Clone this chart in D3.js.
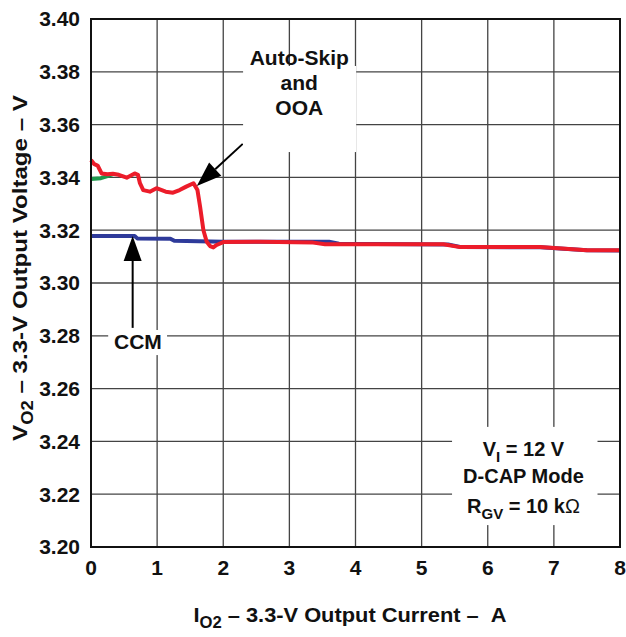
<!DOCTYPE html>
<html>
<head>
<meta charset="utf-8">
<script src="https://cdn.jsdelivr.net/npm/d3@7"></script>
<style>
  body { margin: 0; background: #fff; }
  text { font-family: Arial, "Liberation Sans", sans-serif; font-weight: bold; fill: #111; }
  .grid line { stroke: #444; stroke-width: 1.3; }
</style>
</head>
<body>
<div id="graph"></div>
<script>
const graphWidth = 626;
const graphHeight = 637;

const plotLeft = 91;
const plotRight = 620;
const plotTop = 19;
const plotBottom = 547;

const xTicks = [0, 1, 2, 3, 4, 5, 6, 7, 8];
const yTicks = [3.20, 3.22, 3.24, 3.26, 3.28, 3.30, 3.32, 3.34, 3.36, 3.38, 3.40];

// Auto-Skip and OOA (red)
const skipCurrent = [0, 0.05, 0.1, 0.16, 0.25, 0.33, 0.42, 0.54, 0.66, 0.71, 0.74, 0.79, 0.89, 0.99, 1.13, 1.24, 1.34, 1.44, 1.55, 1.61, 1.65, 1.70, 1.75, 1.80, 1.85, 1.90, 2.0, 2.56, 3.36, 3.54, 5.33, 5.58, 6.79, 7.50, 8.0];
const skipVoltage = [3.3466, 3.3450, 3.3445, 3.3415, 3.3412, 3.3414, 3.3410, 3.3399, 3.3415, 3.3410, 3.3378, 3.3352, 3.3346, 3.3359, 3.3346, 3.3342, 3.3352, 3.3365, 3.3378, 3.3352, 3.3289, 3.3200, 3.3156, 3.3140, 3.3135, 3.3144, 3.3155, 3.3156, 3.3153, 3.3147, 3.3147, 3.3136, 3.3136, 3.3124, 3.3124];

// green trace, visible only at light load
const greenCurrent = [0, 0.15, 0.25, 0.33];
const greenVoltage = [3.3394, 3.3397, 3.3405, 3.3412];

// CCM (blue)
const ccmCurrent = [0, 0.66, 0.70, 1.20, 1.26, 2.0, 3.6, 3.75, 5.4, 5.6, 6.8, 7.5, 8.0];
const ccmVoltage = [3.3178, 3.3178, 3.3169, 3.3168, 3.3160, 3.3156, 3.3156, 3.3149, 3.3146, 3.3136, 3.3135, 3.3124, 3.3123];

const x = d3.scaleLinear().domain([0, 8]).range([plotLeft, plotRight]);
const y = d3.scaleLinear().domain([3.20, 3.40]).range([plotBottom, plotTop]);

const svg = d3.select('#graph').append('svg')
  .attr('width', graphWidth)
  .attr('height', graphHeight);

// grid
const grid = svg.append('g').attr('class', 'grid');
grid.selectAll('.vline').data(xTicks).enter().append('line')
  .attr('x1', d => x(d)).attr('x2', d => x(d))
  .attr('y1', plotTop).attr('y2', plotBottom);
grid.selectAll('.hline').data(yTicks).enter().append('line')
  .attr('x1', plotLeft).attr('x2', plotRight)
  .attr('y1', d => y(d)).attr('y2', d => y(d));

// series
const line = d3.line().x(d => x(d[0])).y(d => y(d[1]));
const zip = (a, b) => a.map((v, i) => [v, b[i]]);

function drawSeries(xs, ys, color) {
  svg.append('path')
    .datum(zip(xs, ys))
    .attr('fill', 'none')
    .attr('stroke', color)
    .attr('stroke-width', 4)
    .attr('stroke-linejoin', 'round')
    .attr('d', line);
}
drawSeries(ccmCurrent, ccmVoltage, '#2e3a9a');
drawSeries(greenCurrent, greenVoltage, '#1e9a4e');
drawSeries(skipCurrent, skipVoltage, '#ec1c2a');

// frame
svg.append('rect')
  .attr('x', plotLeft).attr('y', plotTop)
  .attr('width', plotRight - plotLeft).attr('height', plotBottom - plotTop)
  .attr('fill', 'none').attr('stroke', '#111').attr('stroke-width', 2);

// tick labels
svg.selectAll('.xlab').data(xTicks).enter().append('text')
  .attr('x', d => x(d)).attr('y', 575)
  .attr('text-anchor', 'middle').attr('font-size', 21)
  .text(d => d);
svg.selectAll('.ylab').data(yTicks).enter().append('text')
  .attr('x', 80).attr('y', d => y(d)).attr('dy', '0.35em')
  .attr('text-anchor', 'end').attr('font-size', 21)
  .text(d => d.toFixed(2));

// axis titles
const xt = svg.append('text')
  .attr('transform', translate(350, 622) + ' scale(1.04,1)')
  .attr('text-anchor', 'middle').attr('font-size', 21);
xt.append('tspan').text('I');
xt.append('tspan').attr('font-size', 16).attr('dy', 6).text('O2');
xt.append('tspan').attr('dy', -6).text(' \u2013 3.3-V Output Current \u2013\u00a0\u00a0A');

const yt = svg.append('text')
  .attr('transform', translate(27, 268) + ' rotate(-90) scale(1.15,1)')
  .attr('text-anchor', 'middle').attr('font-size', 21);
yt.append('tspan').text('V');
yt.append('tspan').attr('font-size', 16).attr('dy', 6).text('O2');
yt.append('tspan').attr('dy', -6).text(' \u2013 3.3-V Output Voltage \u2013 V');

// annotations
const arrowTips = [[1.60, 3.3367], [0.63, 3.3178]];
const arrowTails = [[2.295, 3.3527], [0.63, 3.283]];

arrowTips.forEach((tip, i) => drawArrow(arrowTails[i], tip));

function drawArrow(from, to) {
  const x1 = x(from[0]), y1 = y(from[1]), x2 = x(to[0]), y2 = y(to[1]);
  const ang = Math.atan2(y2 - y1, x2 - x1);
  const len = 25, half = 9;
  const bx = x2 - len * Math.cos(ang), by = y2 - len * Math.sin(ang);
  svg.append('line').attr('x1', x1).attr('y1', y1).attr('x2', bx).attr('y2', by)
    .attr('stroke', '#000').attr('stroke-width', 2);
  const px = -Math.sin(ang) * half, py = Math.cos(ang) * half;
  svg.append('path')
    .attr('d', `M${x2},${y2}L${bx + px},${by + py}L${bx - px},${by - py}Z`)
    .attr('fill', '#000');
}

// label boxes [x0, x1, yTop, yBottom] in data units
const skipBox = [2.30, 4.01, 3.3822, 3.3496];
const ccmBox = [0.26, 1.15, 3.2822, 3.2727];
const infoBox = [5.46, 7.66, 3.2455, 3.2083];

[skipBox, ccmBox, infoBox].forEach(b => {
  svg.append('rect')
    .attr('x', x(b[0])).attr('y', y(b[2]))
    .attr('width', x(b[1]) - x(b[0])).attr('height', y(b[3]) - y(b[2]))
    .attr('fill', '#fff');
});

const skipLines = ['Auto-Skip', 'and', 'OOA'];
svg.selectAll('.skip').data(skipLines).enter().append('text')
  .attr('x', x(3.15)).attr('y', (d, i) => y(3.3827) + i * 25)
  .attr('text-anchor', 'middle').attr('font-size', 21)
  .text(d => d);

svg.append('text').attr('x', x(0.71)).attr('y', y(3.2749))
  .attr('text-anchor', 'middle').attr('font-size', 21).text('CCM');

const info = svg.append('g').attr('font-size', 20);
const l1 = info.append('text').attr('x', x(6.54)).attr('y', y(3.2345)).attr('text-anchor', 'middle');
l1.append('tspan').text('V');
l1.append('tspan').attr('font-size', 15).attr('dy', 6).text('I');
l1.append('tspan').attr('dy', -6).text(' = 12 V');
info.append('text').attr('x', x(6.54)).attr('y', y(3.2243)).attr('text-anchor', 'middle').text('D-CAP Mode');
const l3 = info.append('text').attr('x', x(6.54)).attr('y', y(3.2129)).attr('text-anchor', 'middle');
l3.append('tspan').text('R');
l3.append('tspan').attr('font-size', 15).attr('dy', 6).text('GV');
l3.append('tspan').attr('dy', -6).text(' = 10 k');
l3.append('tspan').attr('font-weight', 'normal').text('\u03a9');

function translate(a, b) {
  return 'translate(' + a + ',' + b + ')';
}
</script>
</body>
</html>
